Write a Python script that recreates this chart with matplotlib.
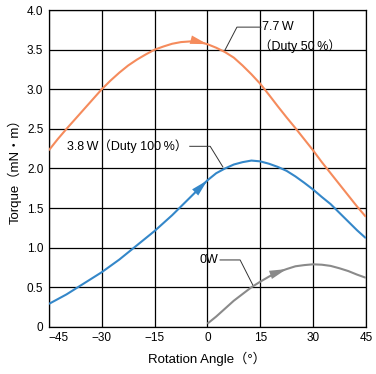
import numpy as np
import matplotlib
matplotlib.use('Agg')
import matplotlib.pyplot as plt

plt.rcParams['font.family'] = ['Liberation Sans', 'Noto Sans CJK JP', 'DejaVu Sans']

#   angles (deg), every 2.5 deg
angle = np.arange(-45, 45.1, 2.5)
angle_0w = np.arange(0, 45.1, 2.5)

#   torque (mN·m)
torque_77w = [2.23, 2.37, 2.50, 2.625, 2.75, 2.875, 3.00, 3.11, 3.21, 3.30,
              3.375, 3.44, 3.50, 3.54, 3.575, 3.596, 3.604, 3.60, 3.57,
              3.525, 3.47, 3.40, 3.30, 3.19, 3.07, 2.93, 2.785, 2.645, 2.51,
              2.37, 2.23, 2.08, 1.94, 1.80, 1.66, 1.52, 1.39]
torque_38w = [0.29, 0.35, 0.41, 0.48, 0.55, 0.62, 0.69, 0.77, 0.85, 0.94,
              1.03, 1.12, 1.21, 1.31, 1.41, 1.52, 1.63, 1.74, 1.85,
              1.94, 2.00, 2.05, 2.08, 2.10, 2.09, 2.06, 2.02, 1.97, 1.90,
              1.82, 1.735, 1.64, 1.55, 1.44, 1.33, 1.22, 1.12]
torque_0w = [0.04, 0.13, 0.23, 0.33, 0.415, 0.50, 0.57, 0.635, 0.69, 0.73,
             0.765, 0.78, 0.79, 0.785, 0.77, 0.74, 0.705, 0.66, 0.62]

xticks = [-45, -30, -15, 0, 15, 30, 45]
xtick_labels = ['\u221245', '\u221230', '\u221215', '0', '15', '30', '45']
yticks = [0, 0.5, 1.0, 1.5, 2.0, 2.5, 3.0, 3.5, 4.0]
ytick_labels = ['0', '0.5', '1.0', '1.5', '2.0', '2.5', '3.0', '3.5', '4.0']

#   leader lines for the labels (x, y in data units)
lead_77w = ([5.0, 8.4, 15.2], [3.495, 3.785, 3.785])
lead_38w = ([-5.0, 0.8, 4.4], [2.28, 2.28, 2.02])
lead_0w = ([3.6, 9.3, 13.0], [0.845, 0.845, 0.52])

c_or = '#F58B5C'
c_bl = '#3487C9'
c_gr = '#8A8A8A'

fig = plt.figure(figsize=(3.76, 3.74), dpi=100)
ax = fig.add_axes([0.130, 0.126, 0.843, 0.847])

ax.plot(angle, torque_77w, color=c_or, lw=1.5, solid_capstyle='butt', zorder=3)
ax.plot(angle, torque_38w, color=c_bl, lw=1.5, solid_capstyle='butt', zorder=3)
ax.plot(angle_0w, torque_0w, color=c_gr, lw=1.5, solid_capstyle='butt', zorder=3)

# arrow heads on the curves
def head(xs, ys, i, col):
    ax.annotate('', xy=(xs[i], ys[i]), xytext=(xs[i - 1], ys[i - 1]),
                arrowprops=dict(arrowstyle='-|>,head_length=0.95,head_width=0.24',
                                mutation_scale=13, color=col, lw=0,
                                shrinkA=0, shrinkB=0),
                zorder=4)

head(angle, torque_77w, 18, c_or)
head(angle, torque_38w, 18, c_bl)
head(angle_0w, torque_0w, 9, c_gr)

for lx, ly in (lead_77w, lead_38w, lead_0w):
    ax.plot(lx, ly, color='#333333', lw=0.7, zorder=2)

ax.text(15.5, 3.785, '7.7\u2009W', fontsize=9, va='center', ha='left')
ax.text(14.6, 3.545, '\uff08Duty 50\u2009%\uff09', fontsize=9, va='center', ha='left')
ax.text(-5.8, 2.28, '3.8\u2009W\uff08Duty 100\u2009%\uff09', fontsize=9, va='center', ha='right')
ax.text(3.0, 0.845, '0W', fontsize=9, va='center', ha='right')

ax.set_xlim(-45, 45)
ax.set_ylim(0, 4.0)
ax.set_xticks(xticks)
ax.set_xticklabels(xtick_labels)
ax.set_yticks(yticks)
ax.set_yticklabels(ytick_labels)
ax.get_xticklabels()[0].set_ha('left')
ax.tick_params(length=0, labelsize=8.5, pad=4)
ax.grid(True, color='black', lw=0.9)
for s in ax.spines.values():
    s.set_linewidth(0.9)

ax.set_xlabel('Rotation Angle\uff08\u00b0\uff09', fontsize=9.5, labelpad=5)
ax.set_ylabel('Torque\uff08mN\u30fbm\uff09', fontsize=9.5, labelpad=4)

fig.savefig('out.png', dpi=100)
